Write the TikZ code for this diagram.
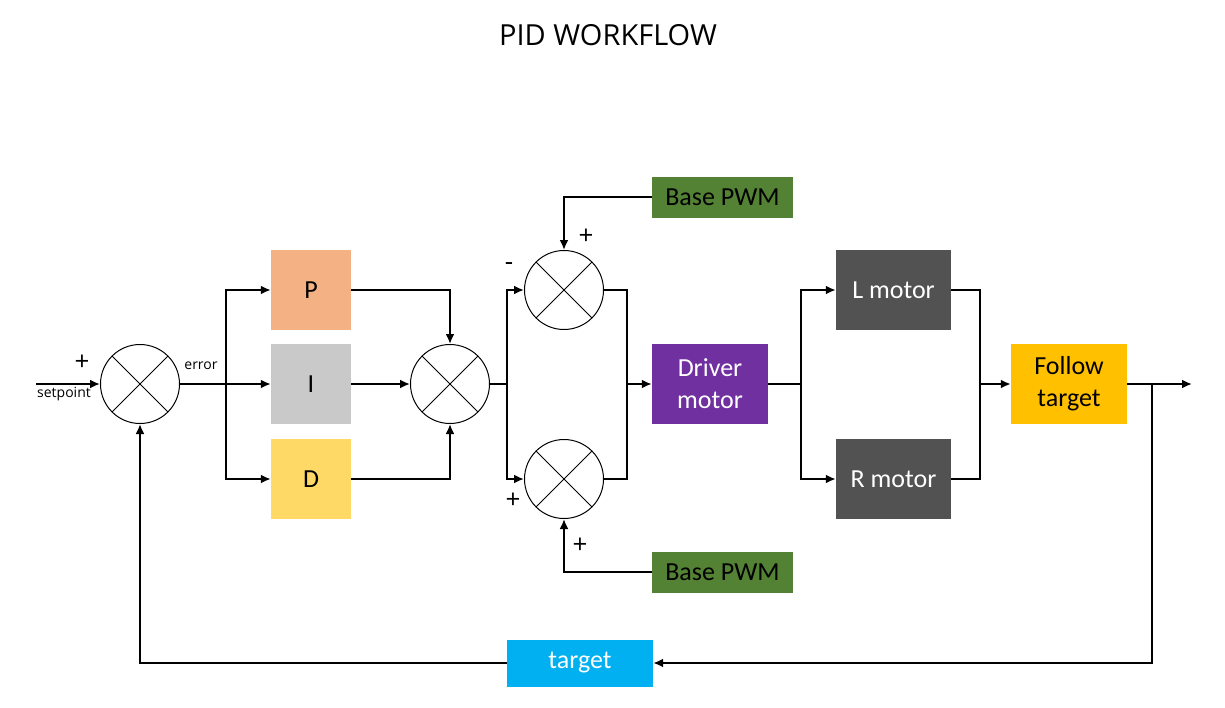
\documentclass[tikz,border=0pt]{standalone}
\usepackage{fontspec}
\setmainfont{Carlito}
\newfontfamily\uifont{Open Sans}
\usetikzlibrary{arrows.meta}
\definecolor{cP}{HTML}{F4B183}
\definecolor{cI}{HTML}{C9C9C9}
\definecolor{cD}{HTML}{FFD966}
\definecolor{cBase}{HTML}{548235}
\definecolor{cDrv}{HTML}{7030A0}
\definecolor{cMot}{HTML}{525252}
\definecolor{cFol}{HTML}{FFC000}
\definecolor{cTgt}{HTML}{00B0F0}
\tikzset{
  blk/.style={rectangle, draw=none, inner sep=0pt, align=center,
    font=\fontsize{26}{32}\selectfont},
  sq/.style={blk, minimum width=80pt, minimum height=80pt},
  wide/.style={blk, minimum width=116pt, minimum height=80pt},
  pwm/.style={blk, fill=cBase, minimum width=141pt, minimum height=41pt},
  summer/.style={circle, draw, line width=1pt, minimum size=79pt, inner sep=0pt,
    path picture={\draw[line width=1pt] (path picture bounding box.north west) -- (path picture bounding box.south east)
      (path picture bounding box.north east) -- (path picture bounding box.south west);}},
  wire/.style={line width=2pt},
  arr/.style={wire, -{Latex[length=10pt,width=9pt]}},
  sign/.style={font=\uifont\fontsize{26}{28}\selectfont, inner sep=0pt},
  small/.style={font=\uifont\fontsize{14}{16}\selectfont, inner sep=0pt}
}
\begin{document}
\begin{tikzpicture}[x=1pt,y=-1pt]
\useasboundingbox (0,0) rectangle (1225,707);
\node[font=\uifont\fontsize{29}{34}\selectfont] (title) at (608,35) {PID WORKFLOW};

\node[summer] (sum1) at (140,384) {};
\node[summer] (sum2) at (450,384) {};
\node[summer] (sum3) at (564,290) {};
\node[summer] (sum4) at (564,479) {};

\node[sq, fill=cP] (P) at (311,290) {P};
\node[sq, fill=cI] (I) at (311,384) {I};
\node[sq, fill=cD] (D) at (311,479) {D};

\node[pwm] (basetop) at (722.5,197) {Base PWM};
\node[pwm] (basebot) at (722.5,572) {Base PWM};

\node[wide, fill=cDrv, text=white] (driver) at (710,384) {Driver\\motor};
\node[blk, fill=cMot, text=white, minimum width=115pt, minimum height=80pt] (lmotor) at (893.5,290) {L motor};
\node[blk, fill=cMot, text=white, minimum width=115pt, minimum height=80pt] (rmotor) at (893.5,479) {R motor};
\node[wide, fill=cFol] (follow) at (1069,384) {Follow\\target};
\node[blk, fill=cTgt, text=white, minimum width=146pt, minimum height=47pt] (target) at (580,663) {target};

\coordinate (sp) at (36,384);
\coordinate (b1) at (226,384);
\coordinate (b2) at (507,384);
\coordinate (j1) at (627,384);
\coordinate (b3) at (801,384);
\coordinate (j2) at (980,384);
\coordinate (b4) at (1152,384);
\coordinate (out) at (1192,384);

\draw[arr] (sp) -- (sum1.west);
\draw[arr] (sum1.east) -- (I.west);
\draw[arr] (b1) |- (P.west);
\draw[arr] (b1) |- (D.west);
\draw[arr] (P.east) -| (sum2.north);
\draw[arr] (I.east) -- (sum2.west);
\draw[arr] (D.east) -| (sum2.south);
\draw[wire] (sum2.east) -- (b2);
\draw[arr] (b2) |- (sum3.west);
\draw[arr] (b2) |- (sum4.west);
\draw[arr] (basetop.west) -| (sum3.north);
\draw[arr] (basebot.west) -| (sum4.south);
\draw[wire] (sum3.east) -| (j1);
\draw[wire] (sum4.east) -| (j1);
\draw[arr] (j1) -- (driver.west);
\draw[wire] (driver.east) -- (b3);
\draw[arr] (b3) |- (lmotor.west);
\draw[arr] (b3) |- (rmotor.west);
\draw[wire] (lmotor.east) -| (j2);
\draw[wire] (rmotor.east) -| (j2);
\draw[arr] (j2) -- (follow.west);
\draw[arr] (follow.east) -- (out);
\draw[arr] (b4) |- (target.east);
\draw[arr] (target.west) -| (sum1.south);

\node[sign] (s1) at (82,363) {+};
\node[small] (lsp) at (64,394) {setpoint};
\node[small] (lerr) at (201,366) {error};
\node[sign] (s2) at (509,267) {-};
\node[sign] (s3) at (586,237) {+};
\node[sign] (s4) at (513,501) {+};
\node[sign] (s5) at (580,546) {+};
\end{tikzpicture}
\end{document}
